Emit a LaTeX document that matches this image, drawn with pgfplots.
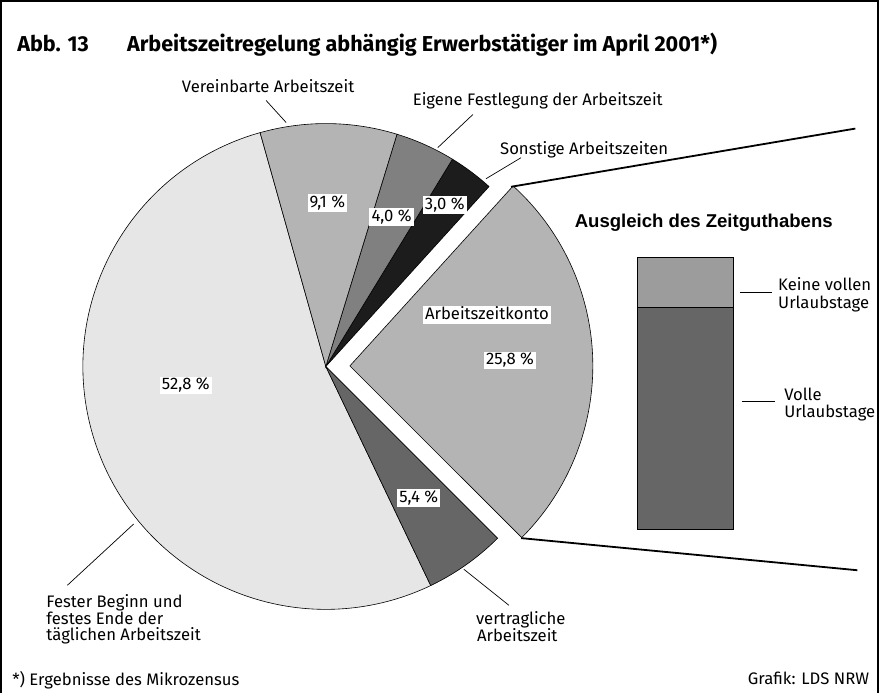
\documentclass[border=0pt]{standalone}
\usepackage{pgfplots}
\usepackage{pgfplotstable}
\pgfplotsset{compat=1.18}
\usepackage{fontspec}
\setmainfont{Fira Sans}
\newfontfamily\arialfont{Liberation Sans}
\definecolor{cFest}{HTML}{E6E6E6}
\definecolor{cVert}{HTML}{666666}
\definecolor{cKonto}{HTML}{B4B4B4}
\definecolor{cSonst}{HTML}{1C1C1C}
\definecolor{cEigen}{HTML}{808080}
\definecolor{cVerein}{HTML}{B4B4B4}
\definecolor{cBarTop}{HTML}{9C9C9C}
\definecolor{cBarBot}{HTML}{666666}
\newcommand\lab{\fontsize{16.6bp}{19bp}\selectfont}
\tikzset{pct/.style={fill=white, inner xsep=2bp, inner ysep=1bp, text height=12bp, text depth=3.5bp, font=\lab}}

\pgfplotstableread{
share
52.8
5.4
25.8
3.0
4.0
9.1
}\piedata

\pgfplotstableread{
x share
0 81.4
}\barvolle
\pgfplotstableread{
x share
0 18.6
}\barkeine

\begin{document}
\begin{tikzpicture}
% cumulative angles
\xdef\curang{105.7}
\expandafter\xdef\csname ang0\endcsname{105.7}
\foreach \i in {0,...,5}{
  \pgfplotstablegetelem{\i}{share}\of\piedata
  \pgfmathsetmacro\newang{\curang+\pgfplotsretval/100.1*360}
  \pgfmathtruncatemacro\j{\i+1}
  \expandafter\xdef\csname ang\j\endcsname{\newang}
  \xdef\curang{\newang}
}
\def\ang#1{\csname ang#1\endcsname}
\def\cx{327.5}\def\cy{325}\def\R{242bp}

\begin{axis}[name=main, width=879bp, height=695bp, scale only axis,
  xmin=0, xmax=879, ymin=0, ymax=695, hide axis, clip=false]
% frame
\addplot[black, line width=2.2bp] coordinates {(4,0) (4,689) (877.5,689) (877.5,0)};

% pie sectors
\filldraw[fill=cFest, draw=black, line width=0.6bp] (axis cs:\cx,\cy) -- ++(\ang{0}:\R) arc[start angle=\ang{0}, end angle=\ang{1}, radius=\R] -- cycle;
\filldraw[fill=cVert, draw=black, line width=0.6bp] (axis cs:\cx,\cy) -- ++(\ang{1}:\R) arc[start angle=\ang{1}, end angle=\ang{2}, radius=\R] -- cycle;
\filldraw[fill=cKonto, draw=black, line width=0.6bp] (axis cs:\cx,\cy) ++(24bp,0.6bp) -- ++(\ang{2}:\R) arc[start angle=\ang{2}, end angle=\ang{3}, radius=\R] -- cycle;
\filldraw[fill=cSonst, draw=black, line width=0.6bp] (axis cs:\cx,\cy) -- ++(\ang{3}:\R) arc[start angle=\ang{3}, end angle=\ang{4}, radius=\R] -- cycle;
\filldraw[fill=cEigen, draw=black, line width=0.6bp] (axis cs:\cx,\cy) -- ++(\ang{4}:\R) arc[start angle=\ang{4}, end angle=\ang{5}, radius=\R] -- cycle;
\filldraw[fill=cVerein, draw=black, line width=0.6bp] (axis cs:\cx,\cy) -- ++(\ang{5}:\R) arc[start angle=\ang{5}, end angle=\ang{6}, radius=\R] -- cycle;

% connecting lines
\addplot[black, line width=1.8bp] coordinates {(512,504) (855,562)};
\addplot[black, line width=1.8bp] coordinates {(522,154) (857,122)};

% leader lines
\addplot[black, line width=0.7bp] coordinates {(268,590) (288,568)};
\addplot[black, line width=0.7bp] coordinates {(474,576) (439,543)};
\addplot[black, line width=0.7bp] coordinates {(522,533) (487,512)};
\addplot[black, line width=0.7bp] coordinates {(136,168) (70,107)};
\addplot[black, line width=0.7bp] coordinates {(465,123) (510,87)};
\addplot[black, line width=0.7bp] coordinates {(740,399) (772,399)};
\addplot[black, line width=0.7bp] coordinates {(742,290) (775,290)};

% title
\node[anchor=base west, inner sep=0pt, font=\fontsize{21.5bp}{24bp}\selectfont\bfseries] at (axis cs:20,639) {Abb. 13\hspace{38bp}Arbeitszeitregelung abhängig Erwerbstätiger im April 2001*)};

% outer labels
\node[anchor=base, inner sep=0pt, font=\lab] at (axis cs:270,598) {Vereinbarte Arbeitszeit};
\node[anchor=base west, inner sep=0pt, font=\lab] at (axis cs:414,585) {Eigene Festlegung der Arbeitszeit};
\node[anchor=base west, inner sep=0pt, font=\lab] at (axis cs:501,536) {Sonstige Arbeitszeiten};
\node[anchor=base west, inner sep=0pt, font=\lab] at (axis cs:49,85) {Fester Beginn und};
\node[anchor=base west, inner sep=0pt, font=\lab] at (axis cs:49,68) {festes Ende der};
\node[anchor=base west, inner sep=0pt, font=\lab] at (axis cs:49,52) {täglichen Arbeitszeit};
\node[anchor=base west, inner sep=0pt, font=\lab] at (axis cs:477,68) {vertragliche};
\node[anchor=base west, inner sep=0pt, font=\lab] at (axis cs:478,51) {Arbeitszeit};
\node[anchor=base west, inner sep=0pt, font=\lab] at (axis cs:15,7) {*) Ergebnisse des Mikrozensus};
\node[anchor=base east, inner sep=0pt, font=\lab] at (axis cs:869,8) {Grafik: LDS NRW};

% percentage labels
\node[pct] at (axis cs:329,488) {9,1 \%};
\node[pct] at (axis cs:393,474) {4,0 \%};
\node[pct] at (axis cs:446,486) {3,0 \%};
\node[pct] at (axis cs:488,376) {Arbeitszeitkonto};
\node[pct] at (axis cs:511,331) {25,8 \%};
\node[pct] at (axis cs:420,194) {5,4 \%};
\node[pct] at (axis cs:188,306) {52,8 \%};

% bar side texts
\node[anchor=base, inner sep=0pt, font=\arialfont\bfseries\fontsize{18.5bp}{21bp}\selectfont] at (axis cs:704,463) {Ausgleich des Zeitguthabens};
\node[anchor=base west, inner sep=0pt, font=\lab] at (axis cs:778,401) {Keine vollen};
\node[anchor=base west, inner sep=0pt, font=\lab] at (axis cs:778,383) {Urlaubstage};
\node[anchor=base west, inner sep=0pt, font=\lab] at (axis cs:784,291) {Volle};
\node[anchor=base west, inner sep=0pt, font=\lab] at (axis cs:784,274) {Urlaubstage};
\end{axis}

\begin{axis}[at={(638bp,163bp)}, anchor=south west, width=96bp, height=271bp,
  scale only axis, xmin=-0.5, xmax=0.5, ymin=0, ymax=100, hide axis,
  ybar stacked, bar width=96bp, clip=false]
\addplot[fill=cBarBot, draw=black, line width=0.8bp] table[x=x, y=share] {\barvolle};
\addplot[fill=cBarTop, draw=black, line width=0.8bp] table[x=x, y=share] {\barkeine};
\node[pct, inner ysep=0.3bp, text height=11.5bp, text depth=3bp] at (axis cs:0,45.2) {81,4\%};
\node[pct, inner ysep=0.3bp, text height=11.5bp, text depth=3bp] at (axis cs:0,91.5) {18,6\%};
\end{axis}
\end{tikzpicture}
\end{document}
